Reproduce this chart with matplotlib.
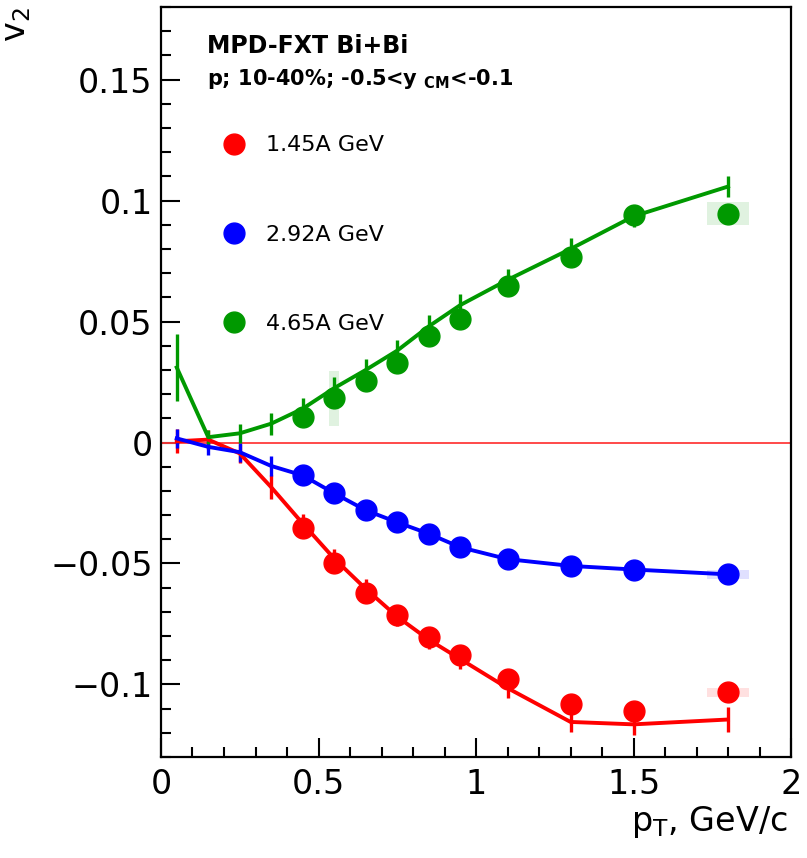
import matplotlib
matplotlib.use('Agg')
import matplotlib.pyplot as plt
from matplotlib.ticker import MultipleLocator, FuncFormatter, FixedLocator
from matplotlib.lines import Line2D

plt.rcParams['font.family'] = ['DejaVu Sans']
plt.rcParams['mathtext.fontset'] = 'dejavusans'

# pT bins
pt_model = [0.05, 0.15, 0.25, 0.35, 0.45, 0.55, 0.65, 0.75, 0.85, 0.95, 1.1, 1.3, 1.5, 1.8]
pt_data = [0.45, 0.55, 0.65, 0.75, 0.85, 0.95, 1.1, 1.3, 1.5, 1.8]

# 1.45A GeV
v2_145_model = [0.0005, 0.0012, -0.0045, -0.0185, -0.0335, -0.048, -0.0605, -0.072, -0.0815,
                -0.0895, -0.1015, -0.1155, -0.1165, -0.1145]
err_145_model = [0.005, 0.004, 0.004, 0.005, 0.004, 0.004, 0.004, 0.004, 0.004, 0.004, 0.004,
                 0.0042, 0.0042, 0.005]
v2_145 = [-0.0355, -0.050, -0.062, -0.0715, -0.0805, -0.0877, -0.0978, -0.108, -0.111, -0.1033]
err_145 = [0.0012, 0.0012, 0.0012, 0.0012, 0.0012, 0.0012, 0.0015, 0.0015, 0.0018, 0.0028]
sys_145 = [0, 0, 0, 0, 0, 0, 0, 0, 0, 0.002]

# 2.92A GeV
v2_292_model = [0.0017, -0.0018, -0.004, -0.0097, -0.0136, -0.021, -0.028, -0.033, -0.0377,
                -0.0433, -0.0482, -0.051, -0.0525, -0.0545]
err_292_model = [0.004, 0.0035, 0.004, 0.004, 0.004, 0.004, 0.004, 0.004, 0.004, 0.004, 0.004,
                 0.004, 0.004, 0.004]
v2_292 = [-0.0136, -0.021, -0.028, -0.033, -0.0377, -0.0433, -0.0481, -0.0509, -0.0525, -0.0545]
err_292 = [0.001, 0.001, 0.001, 0.001, 0.001, 0.001, 0.001, 0.001, 0.001, 0.0012]
sys_292 = [0, 0, 0, 0, 0, 0, 0, 0, 0, 0.002]

# 4.65A GeV
v2_465_model = [0.031, 0.0022, 0.0038, 0.0078, 0.014, 0.0225, 0.030, 0.038, 0.048, 0.0568,
                0.0672, 0.080, 0.0935, 0.1058]
err_465_model = [0.014, 0.003, 0.004, 0.0045, 0.0045, 0.0045, 0.0045, 0.0045, 0.0045, 0.0045,
                 0.0045, 0.0045, 0.0045, 0.0045]
v2_465 = [0.0104, 0.0182, 0.0256, 0.033, 0.0442, 0.0512, 0.0646, 0.0766, 0.0942, 0.0945]
err_465 = [0.003, 0.002, 0.002, 0.002, 0.002, 0.002, 0.002, 0.002, 0.002, 0.0035]
sys_465 = [0, 0.0114, 0, 0, 0, 0, 0, 0, 0, 0.0048]

sys_halfwidth = [0.016, 0.016, 0.016, 0.016, 0.016, 0.016, 0.016, 0.016, 0.016, 0.067]

series = [
    ('1.45A GeV', '#ff0000', v2_145_model, err_145_model, v2_145, err_145, sys_145),
    ('2.92A GeV', '#0000ff', v2_292_model, err_292_model, v2_292, err_292, sys_292),
    ('4.65A GeV', '#009900', v2_465_model, err_465_model, v2_465, err_465, sys_465),
]

fig = plt.figure(figsize=(8.07, 8.58), dpi=100)
ax = fig.add_axes([0.1995, 0.1177, 0.7807, 0.8741])

ax.axhline(0, color='#ff3b3b', lw=1.3, zorder=2)

handles = []
for label, color, ym, em, yd, ed, sd in series:
    # systematic boxes
    xs = [x for x, s in zip(pt_data, sd) if s > 0]
    ys = [y for y, s in zip(yd, sd) if s > 0]
    ss = [s for s in sd if s > 0]
    ws = [w for w, s in zip(sys_halfwidth, sd) if s > 0]
    ax.bar(xs, [2 * s for s in ss], width=[2 * w for w in ws],
           bottom=[y - s for y, s in zip(ys, ss)], color=color, alpha=0.12, linewidth=0, zorder=1)
    # model curve with errors
    ax.errorbar(pt_model, ym, yerr=em, color=color, lw=2.8, elinewidth=2.4, capsize=0, zorder=3)
    # data points
    ax.errorbar(pt_data, yd, yerr=ed, fmt='o', ms=15, color=color, mec=color,
                elinewidth=2, capsize=0, zorder=4)
    handles.append(Line2D([], [], marker='o', ls='none', color=color, ms=15, label=label))

ax.set_xlim(0, 2)
ax.set_ylim(-0.13, 0.18)

ax.xaxis.set_major_locator(MultipleLocator(0.5))
ax.xaxis.set_minor_locator(MultipleLocator(0.1))
ax.yaxis.set_major_locator(FixedLocator([-0.1, -0.05, 0, 0.05, 0.1, 0.15]))
ax.yaxis.set_minor_locator(MultipleLocator(0.01))


def fmt(v, pos):
    return ('%g' % round(v, 4)).replace('-', '\u2212')


ax.xaxis.set_major_formatter(FuncFormatter(fmt))
ax.yaxis.set_major_formatter(FuncFormatter(fmt))

ax.tick_params(which='both', direction='in', top=False, right=False, width=1.5, labelsize=24)
ax.tick_params(which='major', length=14)
ax.tick_params(which='minor', length=7)
ax.tick_params(axis='x', pad=8)
ax.tick_params(axis='y', pad=6)
for sp in ax.spines.values():
    sp.set_linewidth(1.6)

ax.set_xlabel(r'p$_{\rm T}$, GeV/c', fontsize=24, loc='right')
ax.xaxis.set_label_coords(0.995, -0.062)
ax.text(-0.229, 0.999, r'v$_{2}$', transform=ax.transAxes, rotation=90, fontsize=24,
        ha='center', va='top')

ax.text(0.073, 0.9387, 'MPD-FXT Bi+Bi', transform=ax.transAxes, fontsize=17,
        fontweight='bold', va='baseline')
ax.text(0.073, 0.896, r'p; 10-40%; -0.5<y $_{\mathbf{CM}}$<-0.1', transform=ax.transAxes,
        fontsize=15, fontweight='bold', va='baseline')

ax.legend(handles=handles, loc='upper left', bbox_to_anchor=(0.099, 0.829), frameon=False,
          fontsize=16, handlelength=1.0, handletextpad=0.93, labelspacing=3.12,
          borderpad=0, borderaxespad=0)

fig.savefig('out.png', dpi=100)
